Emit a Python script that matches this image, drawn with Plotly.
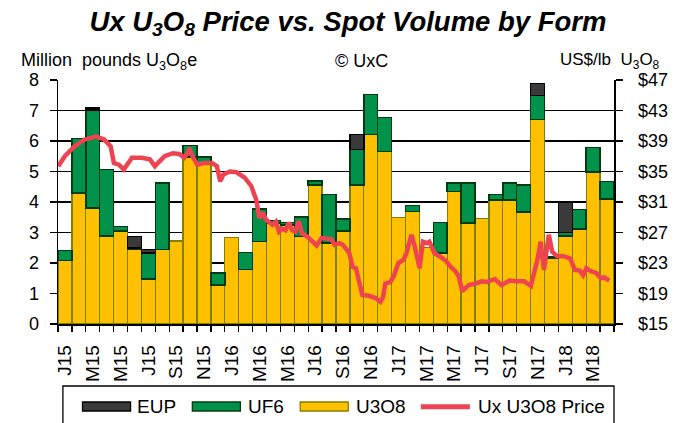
import plotly.graph_objects as go

# ---------------- data ----------------
months = ["Jan 15", "Feb 15", "Mar 15", "Apr 15", "May 15", "Jun 15", "Jul 15", "Aug 15", "Sep 15", "Oct 15",
          "Nov 15", "Dec 15", "Jan 16", "Feb 16", "Mar 16", "Apr 16", "May 16", "Jun 16", "Jul 16", "Aug 16",
          "Sep 16", "Oct 16", "Nov 16", "Dec 16", "Jan 17", "Feb 17", "Mar 17", "Apr 17", "May 17", "Jun 17",
          "Jul 17", "Aug 17", "Sep 17", "Oct 17", "Nov 17", "Dec 17", "Jan 18", "Feb 18", "Mar 18", "Apr 18"]

u3o8 = [2.08, 4.30, 3.80, 2.88, 3.05, 2.45, 1.47, 2.45, 2.72, 5.48,
        5.24, 1.28, 2.83, 1.78, 2.71, 3.31, 3.25, 2.87, 4.56, 2.65,
        3.05, 4.55, 6.21, 5.65, 3.50, 3.69, 2.50, 2.33, 4.35, 3.31,
        3.45, 4.06, 4.06, 3.68, 6.71, 2.16, 2.89, 3.11, 4.99, 4.10]

uf6 = [0.33, 1.79, 3.21, 2.18, 0.15, 0.05, 0.85, 2.17, 0.00, 0.37,
       0.24, 0.39, 0.00, 0.57, 1.06, 0.08, 0.08, 0.64, 0.13, 1.60,
       0.39, 1.17, 1.31, 1.12, 0.00, 0.20, 0.00, 1.00, 0.27, 1.31,
       0.00, 0.19, 0.56, 0.88, 0.79, 0.06, 0.11, 0.64, 0.80, 0.57]

eup = [0.00, 0.00, 0.08, 0.00, 0.00, 0.37, 0.13, 0.00, 0.00, 0.00,
       0.00, 0.00, 0.00, 0.00, 0.00, 0.00, 0.00, 0.00, 0.00, 0.00,
       0.00, 0.49, 0.00, 0.00, 0.00, 0.00, 0.00, 0.00, 0.00, 0.00,
       0.00, 0.00, 0.00, 0.00, 0.39, 0.00, 0.98, 0.00, 0.00, 0.00]

# weekly Ux U3O8 spot price, x in month position (0 = Jan 2015)
price_x = [-0.48, -0.01, 0.70, 1.41, 1.88, 2.23, 2.82, 3.29, 3.52, 3.88,
           4.23, 4.46, 4.82, 5.52, 6.11, 6.47, 6.82, 7.17, 7.76, 8.23,
           8.58, 8.82, 8.94, 9.17, 9.52, 9.99, 10.58, 10.93, 11.17, 11.40,
           11.87, 12.34, 12.93, 13.40, 13.76, 13.99, 14.23, 14.46, 14.93, 15.17,
           15.40, 15.64, 15.87, 16.11, 16.34, 16.58, 16.81, 17.05, 17.40, 17.64,
           18.11, 18.46, 18.93, 19.17, 19.40, 19.75, 19.99, 20.46, 20.69, 20.93,
           21.40, 21.87, 22.34, 22.70, 22.88, 23.05, 23.40, 23.64, 23.99, 24.34,
           24.57, 24.93, 25.16, 25.52, 25.75, 26.04, 26.22, 26.58, 26.93, 27.40,
           27.75, 28.10, 28.34, 28.58, 28.81, 29.05, 29.52, 29.99, 30.34, 30.93,
           31.40, 31.99, 32.58, 33.05, 33.52, 33.99, 34.22, 34.46, 34.81, 35.05,
           35.40, 35.87, 36.34, 36.69, 37.04, 37.28, 37.51, 37.87, 38.22, 38.57,
           38.81, 39.16]
price = [35.7, 37.0, 38.3, 39.2, 39.4, 39.6, 39.2, 38.3, 36.1, 35.9,
         35.25, 35.9, 36.8, 36.8, 36.6, 35.7, 36.4, 37.0, 37.4, 37.3,
         36.8, 37.4, 38.1, 37.0, 35.9, 36.1, 36.1, 35.7, 33.7, 34.6,
         35.0, 34.9, 34.2, 33.1, 31.3, 28.9, 29.6, 28.7, 28.0, 28.4,
         27.1, 27.5, 27.3, 28.3, 27.3, 27.1, 28.5, 26.9, 26.5, 26.1,
         25.3, 26.3, 26.1, 26.1, 25.4, 25.6, 25.4, 24.3, 22.5, 22.3,
         18.8, 18.7, 18.4, 17.9, 18.5, 20.3, 20.5, 21.2, 23.0, 23.4,
         24.3, 26.7, 25.2, 22.3, 25.8, 25.6, 25.8, 24.3, 23.9, 23.3,
         22.5, 21.9, 21.2, 19.3, 19.7, 20.1, 20.3, 20.6, 20.5, 20.9,
         20.1, 20.7, 20.6, 20.6, 20.0, 23.4, 25.8, 22.1, 26.7, 24.5,
         23.9, 23.9, 23.6, 22.1, 22.0, 21.4, 22.3, 21.9, 21.7, 21.0,
         21.1, 20.7]

tick_labels = ["J15", "M15", "M15", "J15", "S15", "N15", "J16", "M16", "M16", "J16",
               "S16", "N16", "J17", "M17", "M17", "J17", "S17", "N17", "J18", "M18"]

legend_names = ["EUP", "UF6", "U3O8", "Ux U3O8 Price"]

# ---------------- styles ----------------
FONT = "Liberation Sans, Arial, sans-serif"
C_U3O8, L_U3O8 = "#FFC000", "#808000"
C_UF6, L_UF6 = "#00914A", "#003A10"
C_EUP, L_EUP = "#3A3A3A", "#000000"
C_PRICE = "#EE4452"

W, H = 680, 423
ML, MR, MT, MB = 58, 55, 80, 99          # plot area: x 58..625, y 80..324
PW, PH = W - ML - MR, H - MT - MB


def px(xs):   # screen x -> paper x
    return (xs - ML) / PW


def py(ys):   # screen y -> paper y
    return (H - MB - ys) / PH


x_idx = list(range(len(months)))


def nz(vals):
    return [v if v > 0 else None for v in vals]


fig = go.Figure()
fig.add_trace(go.Bar(x=x_idx, y=nz(u3o8), name=legend_names[2],
                     marker=dict(color=C_U3O8, line=dict(color=L_U3O8, width=1.3))))
fig.add_trace(go.Bar(x=x_idx, y=nz(uf6), name=legend_names[1],
                     marker=dict(color=C_UF6, line=dict(color=L_UF6, width=1.5))))
fig.add_trace(go.Bar(x=x_idx, y=nz(eup), name=legend_names[0],
                     marker=dict(color=C_EUP, line=dict(color=L_EUP, width=1.5))))
fig.add_trace(go.Scatter(x=price_x, y=price, name=legend_names[3], yaxis="y2", mode="lines",
                         line=dict(color=C_PRICE, width=4.5)))

fig.update_layout(
    width=W, height=H,
    margin=dict(l=ML, r=MR, t=MT, b=MB),
    paper_bgcolor="white", plot_bgcolor="white",
    barmode="stack", bargap=0, showlegend=False,
    font=dict(family=FONT, size=18, color="black"),
    title=dict(text="<b><i>Ux U<sub>3</sub>O<sub>8</sub> Price vs. Spot Volume by Form</i></b>",
               x=348 / W, xanchor="center", y=1 - 21 / H, yanchor="middle",
               font=dict(family=FONT, size=27.5, color="black")),
    xaxis=dict(range=[-0.5, 39.5], tickmode="array",
               tickvals=[2 * i for i in range(len(tick_labels))], ticktext=tick_labels,
               tickangle=-90, ticks="", ticklabelstandoff=12,
               tickfont=dict(size=19),
               showline=True, linecolor="black", linewidth=1.5, showgrid=False, zeroline=False,
               minor=dict(tickmode="array", tickvals=[i - 0.5 for i in range(41)],
                          ticks="outside", ticklen=6, tickcolor="black", tickwidth=1.3)),
    yaxis=dict(range=[0, 8], dtick=1, tick0=0, showline=True, linecolor="black", linewidth=1.5,
               ticks="outside", ticklen=7, tickcolor="black", tickwidth=1.3,
               showgrid=True, gridcolor="black", gridwidth=1.2, zeroline=False,
               ticklabelstandoff=7, tickfont=dict(size=18)),
    yaxis2=dict(range=[15, 47], dtick=4, tick0=15, tickprefix="$", overlaying="y", side="right",
                showline=True, linecolor="black", linewidth=1.5,
                ticks="outside", ticklen=7, tickcolor="black", tickwidth=1.3,
                showgrid=False, zeroline=False, ticklabelstandoff=12, tickfont=dict(size=18)),
)

# header texts
fig.add_annotation(text="Million  pounds U<sub>3</sub>O<sub>8</sub>e", xref="paper", yref="paper",
                   x=px(18), y=py(61), xanchor="left", yanchor="middle", showarrow=False,
                   font=dict(size=18))
fig.add_annotation(text="© UxC", xref="paper", yref="paper",
                   x=px(367), y=py(61), xanchor="center", yanchor="middle", showarrow=False,
                   font=dict(size=18))
fig.add_annotation(text="US$/lb  U<sub>3</sub>O<sub>8</sub>", xref="paper", yref="paper",
                   x=px(674), y=py(61), xanchor="right", yanchor="middle", showarrow=False,
                   font=dict(size=17))

# legend box (drawn as layout shapes + text)
shapes = [dict(type="rect", xref="paper", yref="paper", x0=px(63), x1=px(625), y0=py(430), y1=py(386),
               line=dict(color="black", width=1.3), fillcolor="white", layer="above")]
sw_y0, sw_y1, ty = py(411), py(402), py(406.7)
swatches = [(83, 132, C_EUP, L_EUP), (195, 244, C_UF6, L_UF6), (305, 354, C_U3O8, L_U3O8)]
for x0, x1, c, lc in swatches:
    shapes.append(dict(type="rect", xref="paper", yref="paper", x0=px(x0), x1=px(x1), y0=sw_y0, y1=sw_y1,
                       line=dict(color=lc, width=1.3), fillcolor=c, layer="above"))
shapes.append(dict(type="line", xref="paper", yref="paper", x0=px(428), x1=px(478), y0=ty, y1=ty,
                   line=dict(color=C_PRICE, width=5), layer="above"))
fig.update_layout(shapes=shapes)
for name, xt in zip(legend_names, [137, 250, 360, 484]):
    fig.add_annotation(text=name, xref="paper", yref="paper", x=px(xt), y=ty,
                       xanchor="left", yanchor="middle", showarrow=False, font=dict(size=19))

# remove the browser's default 8px page margin so the figure fills the window
fig.write_html("out.html",
               config={"displayModeBar": False, "staticPlot": True},
               post_script="document.body.style.margin='0';document.body.style.overflow='hidden';")
